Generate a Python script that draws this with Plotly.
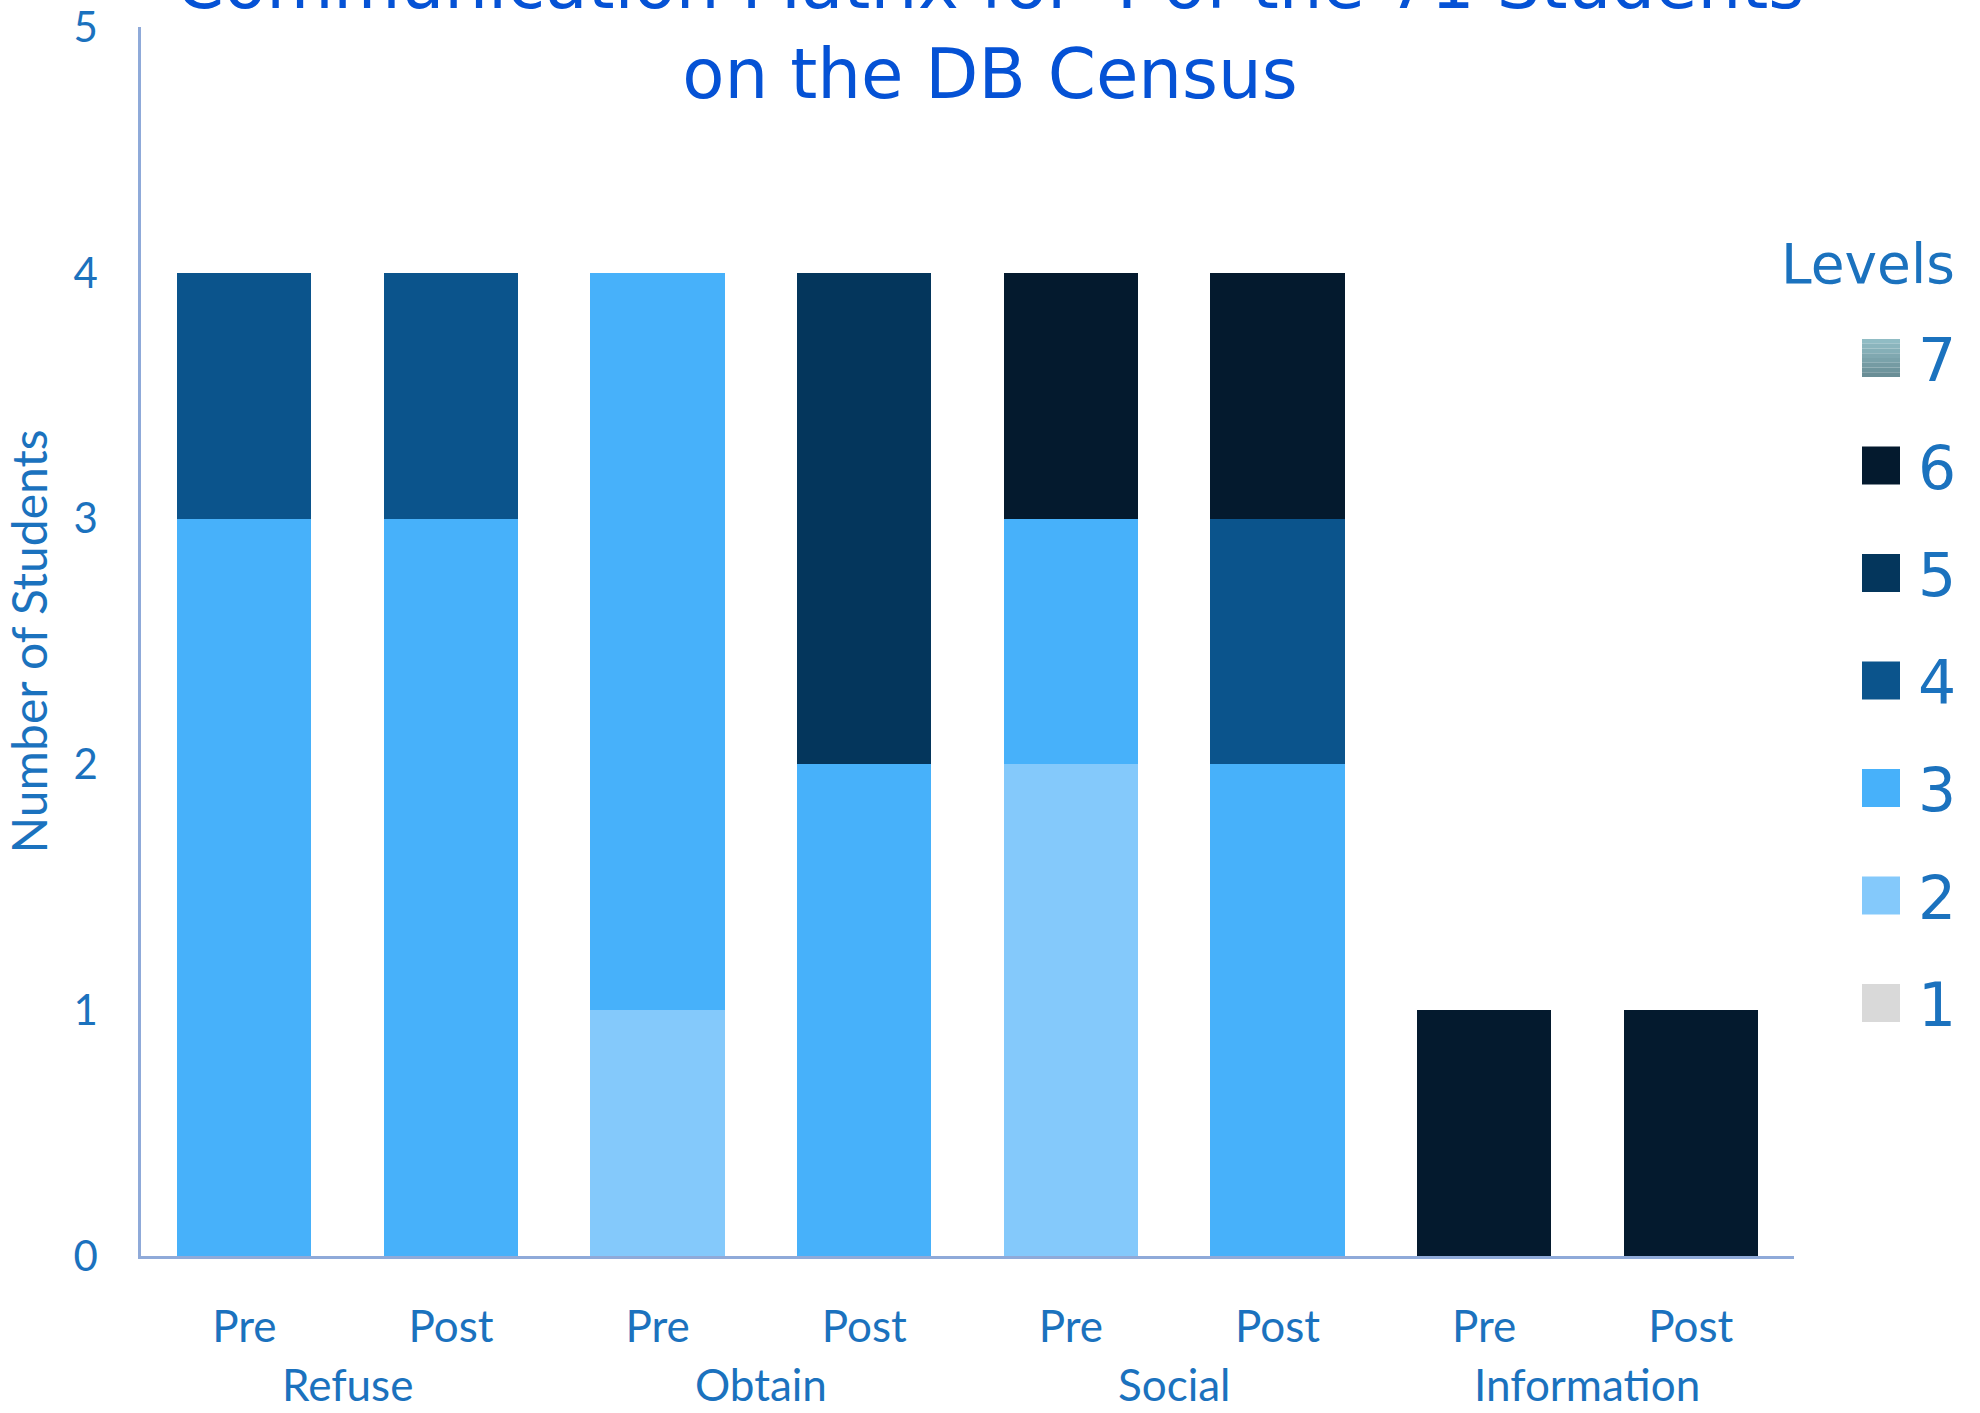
import plotly.graph_objects as go

# Categories: communication function (group) and assessment phase for each bar
groups = ["Refuse", "Refuse", "Obtain", "Obtain", "Social", "Social", "Information", "Information"]
phases = ["Pre", "Post", "Pre", "Post", "Pre", "Post", "Pre", "Post"]
group_names = ["Refuse", "Obtain", "Social", "Information"]

# Number of students at each communication level, per bar
level_names = ["1", "2", "3", "4", "5", "6", "7"]
level_1 = [0, 0, 0, 0, 0, 0, 0, 0]
level_2 = [0, 0, 1, 0, 2, 0, 0, 0]
level_3 = [3, 3, 3, 2, 1, 2, 0, 0]
level_4 = [1, 1, 0, 0, 0, 1, 0, 0]
level_5 = [0, 0, 0, 2, 0, 0, 0, 0]
level_6 = [0, 0, 0, 0, 1, 1, 1, 1]
level_7 = [0, 0, 0, 0, 0, 0, 0, 0]
level_values = [level_1, level_2, level_3, level_4, level_5, level_6, level_7]

y_ticks = [0, 1, 2, 3, 4, 5]

level_colors = ["#D9D9D9", "#84C9FB", "#47B1FA", "#0B548C", "#04365C", "#041A2E", "#7FA6AE"]
level7_gradient = ("#90BCC4", "#6A8E96")

label_color = "#1B72BE"
title_color = "#0552D5"
axis_color = "#8FAAD9"
body_font = "Lato, Carlito, 'Open Sans', sans-serif"
head_font = "'DejaVu Sans', Verdana, sans-serif"

# unique key per bar, labelled by its phase on the axis
bar_keys = [f"{g} {p}" for g, p in zip(groups, phases)]

fig = go.Figure()
for name, vals, col in zip(level_names, level_values, level_colors):
    fig.add_trace(go.Bar(
        x=bar_keys,
        y=vals,
        name=name,
        marker=dict(color=col, line=dict(width=0)),
        showlegend=False,
    ))

left_px, right_px, top_px, bottom_px = 141, 186, 27, 157
W, H = 1980, 1413
plot_w = W - left_px - right_px
plot_h = H - top_px - bottom_px


def px_x(px):
    return (px - left_px) / plot_w


def px_y(py):
    return (H - bottom_px - py) / plot_h


shapes = []
annotations = []

# group labels centred under each Pre/Post pair
for g in group_names:
    idx = [i for i, name in enumerate(groups) if name == g]
    annotations.append(dict(
        text=g, xref="x", yref="paper",
        x=sum(idx) / len(idx), y=px_y(1384), xanchor="center", yanchor="middle",
        showarrow=False, font=dict(family=body_font, size=44, color=label_color),
    ))

# legend drawn as swatches + labels on the right, highest level on top
annotations.append(dict(
    text="Levels", xref="paper", yref="paper",
    x=px_x(1868), y=px_y(264), xanchor="center", yanchor="middle",
    showarrow=False, font=dict(family=head_font, size=55, color=label_color),
))
row0, row_step, sw = 358, 107.5, 38
for i, name in enumerate(reversed(level_names)):
    cy = row0 + i * row_step
    col = level_colors[len(level_names) - 1 - i]
    if name == "7":
        # vertical gradient swatch built from thin strips
        n = 8
        c0 = [int(level7_gradient[0][k:k + 2], 16) for k in (1, 3, 5)]
        c1 = [int(level7_gradient[1][k:k + 2], 16) for k in (1, 3, 5)]
        for s in range(n):
            t = s / (n - 1)
            c = "#" + "".join(f"{round(a + (b - a) * t):02X}" for a, b in zip(c0, c1))
            shapes.append(dict(
                type="rect", xref="paper", yref="paper",
                xsizemode="pixel", ysizemode="pixel",
                xanchor=px_x(1862), yanchor=px_y(cy),
                x0=0, x1=sw, y0=sw / 2 - s * sw / n, y1=sw / 2 - (s + 1) * sw / n,
                fillcolor=c, line=dict(width=0), layer="above",
            ))
    else:
        shapes.append(dict(
            type="rect", xref="paper", yref="paper",
            xsizemode="pixel", ysizemode="pixel",
            xanchor=px_x(1862), yanchor=px_y(cy),
            x0=0, x1=sw, y0=-sw / 2, y1=sw / 2,
            fillcolor=col, line=dict(width=0), layer="above",
        ))
    annotations.append(dict(
        text=name, xref="paper", yref="paper",
        x=px_x(1916), y=px_y(cy + 2), xanchor="left", yanchor="middle",
        showarrow=False, font=dict(family=head_font, size=60, color=label_color),
    ))

fig.update_layout(
    width=W, height=H,
    barmode="stack",
    bargap=0.35,
    plot_bgcolor="white",
    paper_bgcolor="white",
    margin=dict(l=left_px, r=right_px, t=top_px, b=bottom_px, autoexpand=False),
    title=dict(
        text="Communication Matrix for 4 of the 71 Students<br>on the DB Census",
        font=dict(family=head_font, size=69, color=title_color),
        x=0.5, xref="container", xanchor="center",
        y=0.994, yref="container", yanchor="middle",
    ),
    shapes=shapes,
    annotations=annotations,
    showlegend=False,
)

fig.update_xaxes(
    type="category",
    tickvals=bar_keys, ticktext=phases,
    showline=True, linecolor=axis_color, linewidth=3,
    showgrid=False, ticks="", automargin=False,
    tickfont=dict(family=body_font, size=44, color=label_color),
    ticklabelstandoff=30,
)
fig.update_yaxes(
    range=[0, 5], tickvals=y_ticks,
    showline=True, linecolor=axis_color, linewidth=2.5,
    showgrid=False, zeroline=False, ticks="", automargin=False,
    tickfont=dict(family=body_font, size=42, color=label_color),
    ticklabelstandoff=32,
    title=dict(text="Number of Students", standoff=12,
               font=dict(family=body_font, size=48, color=label_color)),
)

fig.write_html("out.html")
